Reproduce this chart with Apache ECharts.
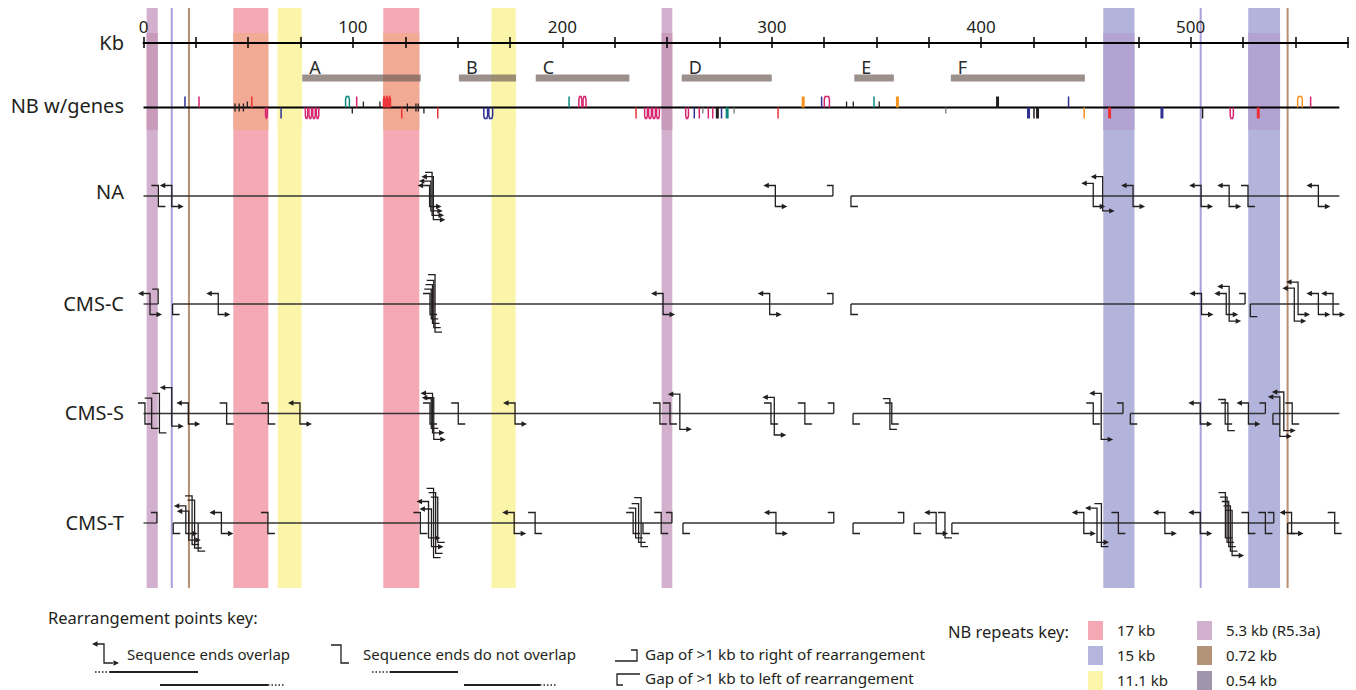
<!DOCTYPE html>
<html><head><meta charset="utf-8">
<script src="https://cdn.jsdelivr.net/npm/echarts@6/dist/echarts.min.js"></script>
<style>html,body{margin:0;padding:0;background:#fff}#c{width:1356px;height:690px}</style>
</head><body><div id="c"></div>
<script>
// ================= DATA =================
const KB_MIN = 0, KB_MAX = 575, KB_TICK = 25, KB_LABEL_STEP = 100;
const ROW_LABELS = ['Kb', 'NB w/genes', 'NA', 'CMS-C', 'CMS-S', 'CMS-T'];

// repeat families: [start kb, end kb]
const REPEAT_KEYS = ['17 kb', '15 kb', '11.1 kb', '5.3 kb (R5.3a)', '0.72 kb', '0.54 kb'];
const REPEAT_17 = [[42.9, 59.6], [114.5, 131.7]];
const REPEAT_15 = [[458.3, 473.2], [527.5, 542.7]];
const REPEAT_11 = [[64.1, 75.5], [166.2, 177.7]];
const REPEAT_53 = [[1.5, 6.8], [247.4, 252.5]];
const REPEAT_072 = [21.7, 546.3];
const REPEAT_054 = [13.5, 504.8];

// gene regions A-F
const REGION_NAMES = ['A', 'B', 'C', 'D', 'E', 'F'];
const REGION_START = [75.8, 150.6, 187.3, 257.0, 339.4, 385.5];
const REGION_END = [132.4, 177.9, 232.0, 300.0, 358.3, 449.5];

// NB genes: [start kb, end kb, strand (1 up, -1 down, 0 across), colour key, kind (t tick, s small, w wide, u loop)]
const NB_EXTENT = [0, 571];
const NB_GENES = [
 [19.8,19.8,1,'n','t'],[26.5,26.5,1,'m','t'],
 [43.7,43.7,0,'k','s'],[45.7,45.7,0,'k','s'],[47.7,47.7,0,'k','s'],[49.6,49.6,1,'k','s'],
 [51.7,51.7,1,'r','t'],[58.0,59.4,-1,'m','u'],[65.7,65.7,-1,'n','t'],
 [77.0,78.7,-1,'m','u'],[78.7,80.5,-1,'m','u'],[80.5,82.3,-1,'m','u'],[82.3,84.0,-1,'m','u'],
 [96.2,98.6,1,'t','u'],[99.7,99.7,-1,'k','s'],[101.8,101.8,1,'m','t'],[105.0,105.0,1,'k','s'],
 [112.9,112.9,1,'k','s'],[114.3,115.6,1,'r','u'],[115.6,116.9,1,'r','u'],[116.9,118.2,1,'r','u'],
 [123.3,123.3,-1,'r','t'],[126.0,126.0,0,'k','s'],[130.1,130.1,0,'k','s'],[131.2,131.2,0,'k','s'],
 [133.9,133.9,-1,'k','s'],[140.5,140.5,-1,'r','t'],
 [162.2,164.6,-1,'n','u'],[164.6,167.0,-1,'n','u'],
 [203.2,203.2,1,'t','t'],[207.6,209.6,1,'m','u'],[209.6,211.6,1,'m','u'],
 [235.2,235.2,-1,'r','t'],
 [239.0,240.9,-1,'m','u'],[240.9,242.8,-1,'m','u'],[242.8,244.7,-1,'m','u'],[244.7,246.6,-1,'m','u'],
 [258.6,260.5,-1,'m','u'],[263.0,263.0,-1,'n','t'],[265.4,265.4,-1,'m','t'],[267.1,267.1,-1,'g','s'],
 [269.7,269.7,-1,'m','t'],[271.8,271.8,-1,'m','t'],[274.0,274.0,-1,'k','w'],[276.0,276.0,-1,'n','t'],
 [278.7,278.7,-1,'t','w'],[282.0,282.0,-1,'g','s'],[303.0,303.0,-1,'r','t'],
 [315.0,315.0,1,'o','w'],[323.8,323.8,1,'n','t'],[324.8,327.8,1,'m','u'],
 [335.7,335.7,1,'k','s'],[338.9,338.9,1,'k','s'],[348.8,348.8,1,'t','t'],[351.3,351.3,1,'k','s'],
 [360.0,360.0,1,'o','w'],[383.1,383.1,-1,'g','s'],[407.8,407.8,1,'k','w'],
 [422.6,422.6,-1,'n','w'],[425.2,425.2,-1,'k','t'],[426.9,426.9,-1,'k','w'],
 [441.7,441.7,1,'n','t'],[449.2,449.2,-1,'o','t'],[461.3,461.3,-1,'r','w'],[486.3,486.3,-1,'n','w'],
 [505.7,505.7,-1,'k','t'],[518.6,520.7,-1,'m','u'],[532.3,532.3,-1,'r','w'],
 [550.8,553.6,1,'o','u'],[557.3,557.3,1,'m','t']
];

// Rearrangement rows
// segments: [start kb, end kb]; gaps: [kb, level]; points: [kb, top level, bottom level, kind]
// kind: o = sequence ends overlap (arrows), n = ends do not overlap, b = arrow on bottom only, t = arrow on top only
const NA_SEGMENTS = [[0, 329.2], [337.8, 571]];
const NA_GAP_RIGHT = [[329.2, 0]];
const NA_GAP_LEFT = [[337.8, 0]];
const NA_POINTS = [
 [7.1,0,0,'n'],[13.5,0,0,'o'],
 [136.6,0,0,'o'],[137.2,1,1,'o'],[137.8,3,2,'b'],[138.4,2,3,'o'],
 [301.7,0,0,'o'],[453.5,0.5,0,'o'],[458.0,2,1,'o'],[472.5,0,0,'o'],
 [505.0,0,0,'o'],[518.4,0,0,'o'],[527.4,0,0,'n'],[561.0,0,0,'o']
];

const CMSC_SEGMENTS = [[0, 7], [13.9, 329.2], [337.8, 526], [528.5, 571]];
const CMSC_GAP_RIGHT = [[7, 1], [329.2, 0], [526, 0]];
const CMSC_GAP_LEFT = [[13.9, 0], [337.8, 0], [528.5, 0.5]];
const CMSC_POINTS = [
 [3.1,0,0,'o'],[35.7,0,0,'o'],
 [136.8,0,0,'n'],[137.4,1,1,'n'],[138.0,2,2,'n'],[138.6,3,3,'n'],[139.2,4.3,4,'n'],
 [248.1,0,0,'o'],[299.0,0,0,'o'],
 [505.2,0,0,'o'],[517.0,0,0,'o'],[518.4,1.6,1.5,'o'],
 [549.5,1.2,1.5,'o'],[551.3,2.6,0,'o'],[561.0,0,0,'o'],[568.0,0,0,'o']
];

const CMSS_SEGMENTS = [[0, 329.6], [338.8, 467.7], [471.2, 535.7], [539.3, 571]];
const CMSS_GAP_RIGHT = [[329.6, 0], [467.7, 0], [535.7, 0]];
const CMSS_GAP_LEFT = [[338.8, 0], [471.2, 0], [539.3, 0]];
const CMSS_POINTS = [
 [0.7,0,0,'n'],[3.9,1.1,1,'n'],[7.6,2.2,2,'n'],[13.5,3.5,0.5,'o'],
 [21.4,0,0,'o'],[39.7,0,0,'n'],[59.6,0,0,'n'],[74.7,0,0,'o'],
 [136.8,0,0,'n'],[137.4,1,1,'n'],[138.0,2.2,2,'o'],[138.6,1.2,3.5,'o'],
 [150.3,0,0,'n'],[177.4,0,0,'o'],
 [246.6,0,0,'n'],[251.4,0,0,'n'],[256.1,2,1.2,'o'],
 [299.6,0,0,'n'],[301.2,1.3,2.5,'o'],[315.8,0,0,'n'],
 [356.4,1,1.2,'n'],[357.3,0,0,'n'],
 [453.5,0,0,'n'],[457.3,2.2,3.5,'o'],
 [504.6,0,0,'o'],[516.5,0.8,0,'n'],[517.8,0,1.5,'n'],[527.6,0,0,'o'],
 [542.6,1.4,2.8,'o'],[544.5,2.5,1.5,'o'],[548.5,0,0,'n']
];

const CMST_SEGMENTS = [[0, 6.4], [14.2, 252.3], [257.6, 329.6], [338.8, 363], [368, 378.5], [386, 539.7], [546.3, 571]];
const CMST_GAP_RIGHT = [[6.4, 0], [252.3, 0], [329.6, 0], [363, 0], [539.7, 0]];
const CMST_GAP_LEFT = [[14.2, 0], [26.1, 4], [238.5, 0], [257.6, 0], [338.8, 0], [368, 0], [386, 0], [546.3, 0]];
const CMST_POINTS = [
 [20.2,1.5,0,'o'],[21.6,0.3,1.5,'o'],[23.2,3.8,2.5,'n'],[24.4,2.8,3.3,'n'],
 [37.2,0,0,'o'],[59.4,0,0,'n'],
 [132.2,0,0,'n'],[136.1,2.5,1,'o'],[137.5,0.8,3,'o'],[138.5,5.5,5.5,'n'],[139.5,4.5,4.5,'n'],[140.5,3.5,2,'n'],
 [177.0,0,0,'o'],[187.0,0,0,'n'],
 [233.8,0,0,'n'],[235.0,1,1,'n'],[236.4,2,2,'n'],[237.6,3.4,3,'n'],[247.2,0,0,'n'],
 [302.0,0,0,'o'],[378.5,0,0,'o'],[382.7,0,1,'n'],
 [449.0,0,0,'o'],[455.3,1,2,'o'],[457.4,2,3,'n'],[465.5,0,0,'n'],
 [487.7,0,0,'o'],[504.6,0,0,'o'],
 [516.6,4.5,1,'n'],[517.4,3.5,2,'n'],[518.2,2.5,3,'n'],[519.0,1.5,4,'n'],[519.8,0.5,5,'b'],
 [527.6,0,0,'n'],[535.7,0,0,'n'],[548.2,0,0,'o'],[568.8,0,0,'n']
];

// ================= LAYOUT / STYLE =================
const Y_KB = 42, Y_REGION = 78, Y_NB = 107.5;
const ROW_Y = [196, 304, 413.5, 523];
const LABEL_Y = [42, 105, 191, 303, 412, 522];
const BAND_TOP = 8, BAND_BOTTOM = 588, BAND_ZONE_TOP = 33, BAND_ZONE_BOTTOM = 130;
const INK = '#231f20';
const FONT = 'Noto Sans';
const GENE_COLORS = {n:'#2e3192', m:'#d6246e', r:'#ed3237', t:'#0b8a7f', o:'#f7941d', k:'#231f20', g:'#7a7a7a'};
const REPEAT_COLORS = ['#f5a8b3', '#b5b6dd', '#fbf6aa', '#d2b1cf', '#b39479', '#a096ac'];
const BAND_MAIN = {r17:'#f5a9b4', r15:'#b3b4dc', r11:'#fbf5a9', r53:'#d3b0cd'};
const BAND_ZONE = {r17:'#f3aa94', r15:'#b3a3d2', r11:'#fbf5a9', r53:'#c99bbb'};
const LINE_072 = '#b88f70', LINE_054 = '#a9a0dc';
const TOP_BASE = 10.5, BOT_BASE = 10.5, STEP = 4.4;

// ================= BUILD =================
const rows = [
 {seg:NA_SEGMENTS, gr:NA_GAP_RIGHT, gl:NA_GAP_LEFT, pts:NA_POINTS},
 {seg:CMSC_SEGMENTS, gr:CMSC_GAP_RIGHT, gl:CMSC_GAP_LEFT, pts:CMSC_POINTS},
 {seg:CMSS_SEGMENTS, gr:CMSS_GAP_RIGHT, gl:CMSS_GAP_LEFT, pts:CMSS_POINTS},
 {seg:CMST_SEGMENTS, gr:CMST_GAP_RIGHT, gl:CMST_GAP_LEFT, pts:CMST_POINTS}
];

const bands = [];
REPEAT_17.forEach(b => bands.push({s:b[0], e:b[1], k:'r17'}));
REPEAT_11.forEach(b => bands.push({s:b[0], e:b[1], k:'r11'}));
REPEAT_53.forEach(b => bands.push({s:b[0], e:b[1], k:'r53'}));
REPEAT_15.forEach(b => bands.push({s:b[0], e:b[1], k:'r15'}));
const thinLines = [];
REPEAT_054.forEach(v => thinLines.push({v, c:LINE_054}));
REPEAT_072.forEach(v => thinLines.push({v, c:LINE_072}));

const segItems = [], gapItems = [], ptItems = [];
rows.forEach((r, ri) => {
  r.seg.forEach(s => segItems.push({s:s[0], e:s[1], ri}));
  r.gr.forEach(g => gapItems.push({kb:g[0], lev:g[1], dir:1, ri}));
  r.gl.forEach(g => gapItems.push({kb:g[0], lev:g[1], dir:-1, ri}));
  r.pts.forEach(p => ptItems.push({kb:p[0], tl:p[1], bl:p[2], kind:p[3], ri}));
});

function arrowLeft(x, y){ return {type:'polygon', shape:{points:[[x,y],[x+5.5,y-2.7],[x+5.5,y+2.7]]}, style:{fill:INK, stroke:null}}; }
function arrowRight(x, y){ return {type:'polygon', shape:{points:[[x,y],[x-5.5,y-2.7],[x-5.5,y+2.7]]}, style:{fill:INK, stroke:null}}; }

const series = [];
// repeat bands
series.push({
  type:'custom', xAxisIndex:2, yAxisIndex:1, z:1, silent:true,
  data: bands.map(b => [b.s, b.e]),
  renderItem(params, api){
    const b = bands[params.dataIndex];
    const p0 = api.coord([b.s, BAND_TOP]), p1 = api.coord([b.e, BAND_BOTTOM]);
    const z0 = api.coord([b.s, BAND_ZONE_TOP]), z1 = api.coord([b.e, BAND_ZONE_BOTTOM]);
    return {type:'group', children:[
      {type:'rect', shape:{x:p0[0], y:p0[1], width:p1[0]-p0[0], height:p1[1]-p0[1]}, style:{fill:BAND_MAIN[b.k]}},
      {type:'rect', shape:{x:z0[0], y:z0[1], width:z1[0]-z0[0], height:z1[1]-z0[1]}, style:{fill:BAND_ZONE[b.k]}}
    ]};
  }
});
// thin repeat lines
series.push({
  type:'custom', xAxisIndex:2, yAxisIndex:1, z:2, silent:true,
  data: thinLines.map(t => [t.v]),
  renderItem(params, api){
    const t = thinLines[params.dataIndex];
    const a = api.coord([t.v, BAND_TOP]), b = api.coord([t.v, BAND_BOTTOM]);
    return {type:'line', shape:{x1:a[0], y1:a[1], x2:b[0], y2:b[1]}, style:{stroke:t.c, lineWidth:2}};
  }
});
// region bars A-F
series.push({
  type:'custom', xAxisIndex:2, yAxisIndex:1, z:3, silent:true,
  data: REGION_NAMES.map((n, i) => [REGION_START[i], REGION_END[i]]),
  renderItem(params, api){
    const i = params.dataIndex;
    const a = api.coord([REGION_START[i], Y_REGION]), b = api.coord([REGION_END[i], Y_REGION]);
    return {type:'group', children:[
      {type:'rect', shape:{x:a[0], y:a[1]-3.5, width:b[0]-a[0], height:7}, style:{fill:'#6b5b56', opacity:0.68}},
      {type:'text', x:a[0]+7, y:a[1]-11, style:{text:REGION_NAMES[i], fill:'#2b2b2b', font:'18px "'+FONT+'"', textAlign:'left', textVerticalAlign:'middle'}}
    ]};
  }
});
// NB line + genes
series.push({
  type:'custom', xAxisIndex:2, yAxisIndex:1, z:4, silent:true,
  data: [NB_EXTENT],
  renderItem(params, api){
    const a = api.coord([NB_EXTENT[0], Y_NB]), b = api.coord([NB_EXTENT[1], Y_NB]);
    return {type:'line', shape:{x1:a[0], y1:a[1], x2:b[0], y2:b[1]}, style:{stroke:'#000', lineWidth:2}};
  }
});
series.push({
  type:'custom', xAxisIndex:2, yAxisIndex:1, z:5, silent:true,
  data: NB_GENES.map(g => [g[0], g[1]]),
  renderItem(params, api){
    const g = NB_GENES[params.dataIndex];
    const a = api.coord([g[0], Y_NB]), b = api.coord([g[1], Y_NB]);
    const y = a[1], col = GENE_COLORS[g[3]], kind = g[4], s = g[2];
    if (kind === 'u') {
      const h = 11 * (s >= 0 ? -1 : 1);
      const x0 = a[0] + 0.6, x1 = b[0] - 0.6;
      return {type:'polyline', shape:{points:[[x0,y],[x0,y+h*0.75],[x0+0.8,y+h],[x1-0.8,y+h],[x1,y+h*0.75],[x1,y]]}, style:{stroke:col, lineWidth:1.5, fill:'none'}};
    }
    let y1, y2, w = 1.5;
    if (kind === 's') { if (s === 0) { y1 = y-4; y2 = y+4; } else { y1 = y; y2 = y - 6*s; } w = 1.3; }
    else { y1 = y; y2 = y - 11*s; if (kind === 'w') w = 3; }
    return {type:'line', shape:{x1:a[0], y1:y1, x2:a[0], y2:y2}, style:{stroke:col, lineWidth:w}};
  }
});
// row lines
series.push({
  type:'custom', xAxisIndex:2, yAxisIndex:1, z:6, silent:true,
  data: segItems.map(s => [s.s, s.e]),
  renderItem(params, api){
    const s = segItems[params.dataIndex];
    const a = api.coord([s.s, ROW_Y[s.ri]]), b = api.coord([s.e, ROW_Y[s.ri]]);
    return {type:'line', shape:{x1:a[0], y1:a[1], x2:b[0], y2:b[1]}, style:{stroke:'#333', lineWidth:1.3}};
  }
});
// gap brackets
series.push({
  type:'custom', xAxisIndex:2, yAxisIndex:1, z:7, silent:true,
  data: gapItems.map(g => [g.kb]),
  renderItem(params, api){
    const g = gapItems[params.dataIndex];
    const p = api.coord([g.kb, ROW_Y[g.ri]]);
    const x = p[0], y0 = p[1];
    let pts;
    if (g.dir > 0) { const yt = y0 - (TOP_BASE + STEP*g.lev); pts = [[x, y0], [x, yt], [x-6, yt]]; }
    else { const yb = y0 + (BOT_BASE + STEP*g.lev); pts = [[x, y0], [x, yb], [x+7, yb]]; }
    return {type:'polyline', shape:{points:pts}, style:{stroke:INK, lineWidth:1.3, fill:'none'}};
  }
});
// rearrangement points
series.push({
  type:'custom', xAxisIndex:2, yAxisIndex:1, z:8, silent:true,
  data: ptItems.map(p => [p.kb]),
  renderItem(params, api){
    const p = ptItems[params.dataIndex];
    const c = api.coord([p.kb, ROW_Y[p.ri]]);
    const x = c[0], y0 = c[1];
    const top = y0 - (TOP_BASE + STEP*p.tl), bot = y0 + (BOT_BASE + STEP*p.bl);
    const aT = p.kind === 'o' || p.kind === 't', aB = p.kind === 'o' || p.kind === 'b';
    const Lt = aT ? 12 : 7, Lb = aB ? 12 : 7;
    const ch = [{type:'polyline', shape:{points:[[x-Lt+(aT?3:0), top],[x, top],[x, bot],[x+Lb-(aB?3:0), bot]]}, style:{stroke:INK, lineWidth:1.3, fill:'none'}}];
    if (aT) ch.push(arrowLeft(x-Lt, top));
    if (aB) ch.push(arrowRight(x+Lb, bot));
    return {type:'group', children:ch};
  }
});

// ================= LEGEND / LABELS (graphic) =================
const graphic = [];
ROW_LABELS.forEach((t, i) => graphic.push({type:'text', x:124, y:LABEL_Y[i], style:{text:t, fill:INK, font:'20px "'+FONT+'"', textAlign:'right', textVerticalAlign:'middle'}}));
const keyFont = '15px "'+FONT+'"';
function gLine(pts, w, dash){ return {type:'polyline', shape:{points:pts}, style:{stroke:INK, lineWidth:w||1.3, fill:'none', lineDash:dash||null}}; }
function gTri(pts){ return {type:'polygon', shape:{points:pts}, style:{fill:INK}}; }
graphic.push({type:'text', x:48, y:617, style:{text:'Rearrangement points key:', fill:INK, font:'16.5px "'+FONT+'"', textVerticalAlign:'middle'}});
// overlap key
graphic.push(gLine([[95,644],[104,644],[104,663],[113,663]]));
graphic.push(gTri([[92,644],[97.5,641.3],[97.5,646.7]]));
graphic.push(gTri([[119,663],[113.5,660.3],[113.5,665.7]]));
graphic.push({type:'text', x:127, y:654, style:{text:'Sequence ends overlap', fill:INK, font:keyFont, textVerticalAlign:'middle'}});
graphic.push(gLine([[95,672],[110,672]], 1.5, [1.5,2]));
graphic.push(gLine([[110,672],[198,672]], 2));
graphic.push(gLine([[160,685],[268,685]], 2));
graphic.push(gLine([[268,685],[285,685]], 1.5, [1.5,2]));
// no-overlap key
graphic.push(gLine([[331,645],[341,645],[341,663],[349,663]]));
graphic.push({type:'text', x:363, y:654, style:{text:'Sequence ends do not overlap', fill:INK, font:keyFont, textVerticalAlign:'middle'}});
graphic.push(gLine([[372,672],[390,672]], 1.5, [1.5,2]));
graphic.push(gLine([[390,672],[458,672]], 2));
graphic.push(gLine([[464,685],[540,685]], 2));
graphic.push(gLine([[540,685],[557,685]], 1.5, [1.5,2]));
// gap keys
graphic.push(gLine([[615,661],[637,661],[637,650],[631,650]]));
graphic.push({type:'text', x:645, y:654, style:{text:'Gap of >1 kb to right of rearrangement', fill:INK, font:'15.3px "'+FONT+'"', textVerticalAlign:'middle'}});
graphic.push(gLine([[640,674],[617,674],[617,685],[623,685]]));
graphic.push({type:'text', x:645, y:678, style:{text:'Gap of >1 kb to left of rearrangement', fill:INK, font:'15.3px "'+FONT+'"', textVerticalAlign:'middle'}});
// repeats key
graphic.push({type:'text', x:948, y:631, style:{text:'NB repeats key:', fill:INK, font:'16.5px "'+FONT+'"', textVerticalAlign:'middle'}});
REPEAT_KEYS.forEach((k, i) => {
  const col = Math.floor(i / 3), row = i % 3;
  const sx = col === 0 ? 1088 : 1197, sy = 621 + row * 25;
  graphic.push({type:'rect', shape:{x:sx, y:sy, width:15, height:19}, style:{fill:REPEAT_COLORS[i]}});
  graphic.push({type:'text', x:sx + 29, y:sy + 8.5, style:{text:k, fill:INK, font:'15px "'+FONT+'"', textVerticalAlign:'middle'}});
});

const axisCommon = {type:'value', min:KB_MIN, max:KB_MAX, interval:KB_TICK, splitLine:{show:false}};
const option = {
  animation:false,
  backgroundColor:'#fff',
  grid:[{left:143.5, right:8.3, top:Y_KB, height:1}, {left:143.5, right:8.3, top:0, bottom:0}],
  xAxis:[
    Object.assign({gridIndex:0, position:'top', z:10,
      axisLine:{lineStyle:{color:'#000', width:2}},
      axisTick:{length:6, lineStyle:{color:'#000', width:1.5}},
      axisLabel:{formatter:v => (v % KB_LABEL_STEP === 0 ? String(v) : ''), fontSize:17, color:INK, margin:7, fontFamily:FONT}}, axisCommon),
    Object.assign({gridIndex:0, position:'top', z:10,
      axisLine:{show:false}, axisTick:{inside:true, length:6, lineStyle:{color:'#000', width:1.5}}, axisLabel:{show:false}}, axisCommon),
    {gridIndex:1, type:'value', min:KB_MIN, max:KB_MAX, show:false, splitLine:{show:false}}
  ],
  yAxis:[
    {gridIndex:0, type:'value', show:false, splitLine:{show:false}},
    {gridIndex:1, type:'value', min:0, max:690, inverse:true, show:false, splitLine:{show:false}}
  ],
  graphic: graphic,
  series: series
};
const chart = echarts.init(document.getElementById('c'), null, {renderer:'svg'});
chart.setOption(option);
</script></body></html>
